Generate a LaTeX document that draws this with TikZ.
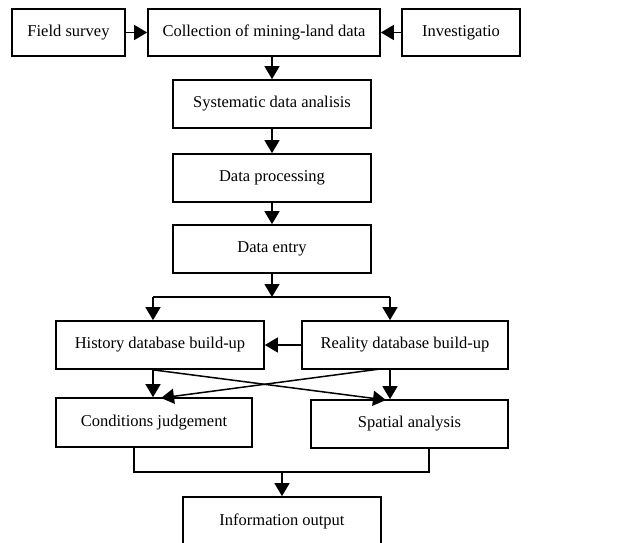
\documentclass[tikz,border=0pt]{standalone}
\usepackage{fontspec}
\setmainfont{Liberation Serif}
\usetikzlibrary{arrows.meta}

\begin{document}
\begin{tikzpicture}[x=1pt,y=-1pt,
  box/.style={draw,line width=1.7pt,minimum height=47pt,inner sep=0pt},
  arr/.style={line width=1.5pt,-{Triangle[length=13pt,width=15pt]}},
  link/.style={line width=1.5pt}]
  \fontsize{16.5}{19}\selectfont
  \useasboundingbox (0,0) rectangle (638,543);
  \node[box,minimum width=113pt] (field) at (68.5,32.5) {Field survey};
  \node[box,minimum width=232pt] (collect) at (264,32.5) {Collection of mining-land data};
  \node[box,minimum width=118pt] (invest) at (461,32.5) {Investigatio};
  \node[box,minimum width=198pt,minimum height=48pt] (sysana) at (272,104) {Systematic data analisis};
  \node[box,minimum width=198pt,minimum height=48pt] (dataproc) at (272,178) {Data processing};
  \node[box,minimum width=198pt,minimum height=48pt] (dataentry) at (272,249) {Data entry};
  \node[box,minimum width=208pt,minimum height=48pt] (history) at (160,345) {History database build-up};
  \node[box,minimum width=206pt,minimum height=48pt] (reality) at (405,345) {Reality database build-up};
  \node[box,minimum width=196pt,minimum height=49pt] (cond) at (154,422.5) {Conditions judgement};
  \node[box,minimum width=197pt,minimum height=48pt] (spatial) at (409.5,424) {Spatial analysis};
  \node[box,minimum width=198pt,minimum height=49pt] (info) at (282,521.5) {Information output};
  % collection stage
  \draw[arr] (field) -- (collect);
  \draw[arr] (invest) -- (collect);
  \draw[arr] (collect.south -| sysana) -- (sysana);
  \draw[arr] (sysana) -- (dataproc);
  \draw[arr] (dataproc) -- (dataentry);
  % split into the two databases
  \coordinate (split) at (272,297);
  \coordinate (splitL) at (153,297);
  \coordinate (splitR) at (390,297);
  \draw[arr] (dataentry) -- (split);
  \draw[link] (splitL) -- (splitR);
  \draw[arr] (splitL) -- (splitL |- history.north);
  \draw[arr] (splitR) -- (splitR |- reality.north);
  \draw[arr] (reality) -- (history);
  % databases feed both analyses
  \coordinate (hOut) at (splitL |- history.south);
  \coordinate (rOut) at (splitR |- reality.south);
  \coordinate (rCross) at (380,369);
  \coordinate (condIn) at (161,398);
  \coordinate (spatIn) at (386,400);
  \draw[arr] (hOut) -- (hOut |- cond.north);
  \draw[arr] (rOut) -- (rOut |- spatial.north);
  \draw[arr] (hOut) -- (spatIn);
  \draw[arr] (rCross) -- (condIn);
  % merge to output
  \coordinate (condOut) at (134,447);
  \coordinate (spatOut) at (429,448);
  \coordinate (merge) at (282,472);
  \draw[link] (condOut) -- (condOut |- merge) -- (spatOut |- merge) -- (spatOut);
  \draw[arr] (merge) -- (info);
\end{tikzpicture}
\end{document}
